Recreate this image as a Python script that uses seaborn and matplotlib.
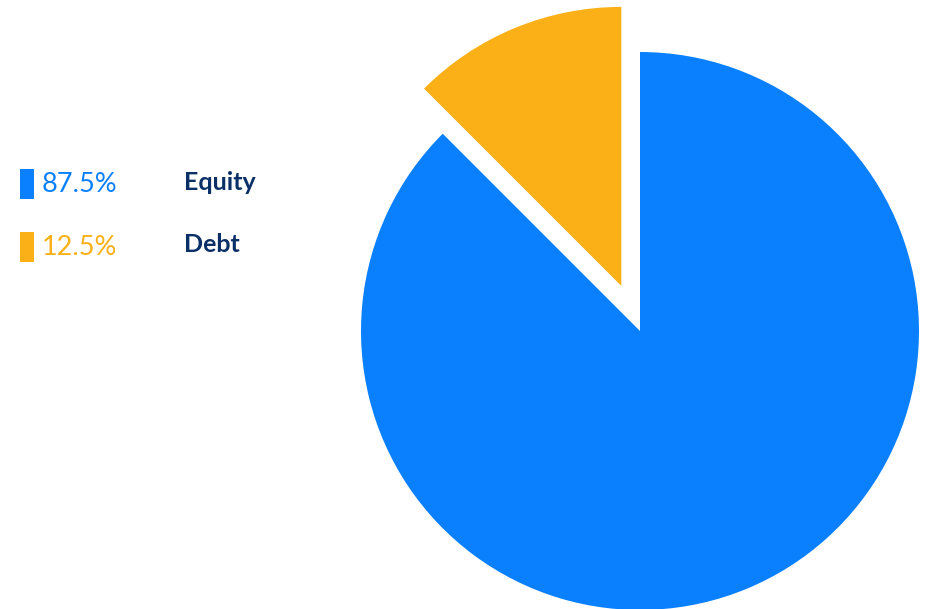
import matplotlib.pyplot as plt
import seaborn as sns
from matplotlib.patches import Rectangle

# data
labels = ["Equity", "Debt"]
shares = [87.5, 12.5]
colors = ["#0a80ff", "#fbb017"]
explode = [0, 0.175]

sns.set_theme(style="white")
plt.rcParams["font.family"] = ["Lato", "DejaVu Sans"]

W, H = 928, 609
fig = plt.figure(figsize=(W / 100, H / 100), dpi=100)
ax = fig.add_axes([0, 0, 1, 1])

ax.pie(shares, colors=colors, startangle=90, counterclock=False,
       explode=explode, wedgeprops={"linewidth": 0})

# pie centre at (640, 331) px, radius 279 px
scale = 279.0
cx, cy = 640, 331
ax.set_xlim(-cx / scale, (W - cx) / scale)
ax.set_ylim(-(H - cy) / scale, cy / scale)
ax.axis("off")

# legend on the left
rows_y = [169, 232]
for i, (lab, val, col) in enumerate(zip(labels, shares, colors)):
    top = rows_y[i]
    fig.add_artist(Rectangle((20 / W, 1 - (top + 30) / H), 14 / W, 30 / H,
                             transform=fig.transFigure, color=col, lw=0))
    fig.text(42 / W, 1 - (top + 23) / H, f"{val}%", color=col,
             fontsize=19.5, fontweight="normal", va="baseline", ha="left")
    fig.text(184.5 / W, 1 - (top + 20.5) / H, lab, color="#0b3068",
             fontsize=18, fontweight="bold", va="baseline", ha="left")

fig.savefig("out.png", dpi=100)
